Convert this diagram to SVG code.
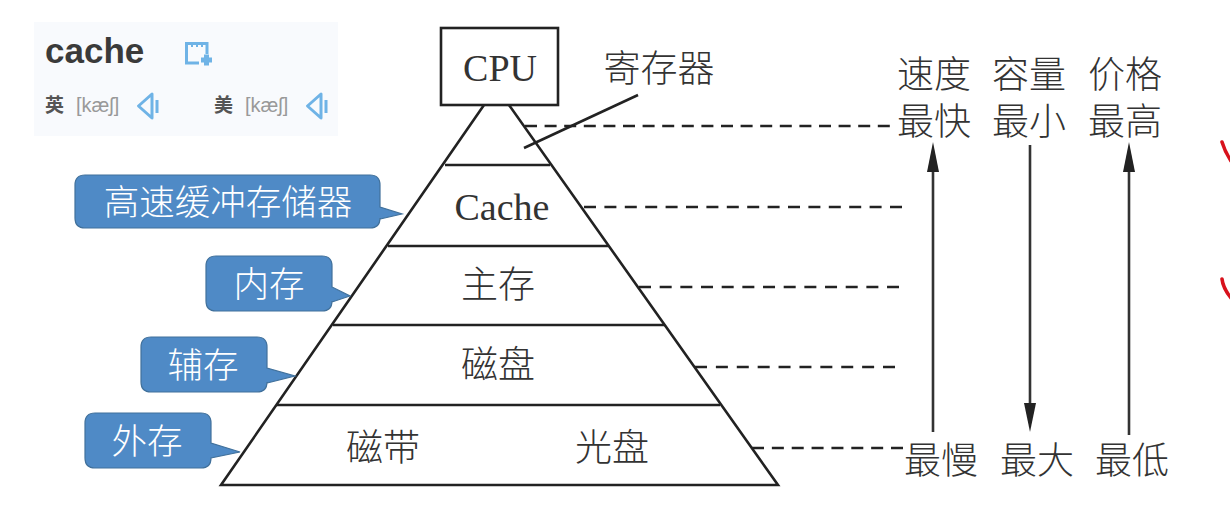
<svg xmlns="http://www.w3.org/2000/svg" width="1230" height="510" viewBox="0 0 1230 510">
<style>
.ln{stroke:#222;stroke-width:2.6;fill:none}
.da{stroke:#222;stroke-width:2.6;fill:none;stroke-dasharray:12 8}
.ar{stroke:#333;stroke-width:2.6;fill:none}
.t{font-family:"Liberation Serif","Noto Sans CJK SC",serif;font-size:37px;fill:#333;text-anchor:middle;font-weight:300}
.s{font-family:"Liberation Serif","Noto Sans CJK SC",serif;font-size:38px;fill:#333;text-anchor:middle}
.w{font-family:"Noto Sans CJK SC",sans-serif;font-size:35.5px;fill:#fff;text-anchor:middle;font-weight:300}
.b{fill:#4f8ac6;stroke:#41719c;stroke-width:1.2}
.ic{fill:none;stroke:#6fb3e6;stroke-width:3}
.ph{font-family:"Liberation Sans",sans-serif;font-size:20px;fill:#999}
.zh{font-family:"Noto Sans CJK SC",sans-serif;font-size:19px;font-weight:700;fill:#555}
</style>
<rect width="1230" height="510" fill="#fff"/>
<g id="card">
<rect x="34" y="22" width="304" height="114" fill="#f8fafd"/>
<text x="45" y="63" font-family="Liberation Sans,sans-serif" font-size="35" font-weight="700" fill="#3a3a3a">cache</text>
<path class="ic" d="M207 54V43.500H186.500V63H199"/>
<path d="M192 44V47M197 44V47M202 44V47" stroke="#6fb3e6" stroke-width="2" fill="none"/>
<path d="M201 60H212M206.500 54.500V65.500" stroke="#6fb3e6" stroke-width="5" fill="none"/>
<text x="45" y="112" class="zh">英</text>
<text x="76" y="112" class="ph">[kæʃ]</text>
<path class="ic" d="M138.500 106L152 94V118Z" stroke-linejoin="round"/><path class="ic" d="M157 100V113"/>
<text x="214" y="112" class="zh">美</text>
<text x="245" y="112" class="ph">[kæʃ]</text>
<path class="ic" d="M307.500 106L321 94V118Z" stroke-linejoin="round"/><path class="ic" d="M326 100V113"/>
</g>
<g id="pyramid">
<path class="ln" d="M484 105L221 485H778L509 105"/>
<path class="ln" d="M445 165H550M388 246H608M333 325H665M276 405H720"/>
</g>
<g id="cpu"><rect class="ln" x="441" y="28" width="117" height="77"/><text class="s" x="500" y="81">CPU</text></g>
<g id="register-label"><text class="t" x="659" y="82">寄存器</text></g>
<g id="level-cache"><text class="s" x="502" y="220">Cache</text></g>
<g id="level-main"><text class="t" x="498" y="298">主存</text></g>
<g id="level-disk"><text class="t" x="498" y="378">磁盘</text></g>
<g id="level-tape"><text class="t" x="383" y="461">磁带</text></g>
<g id="level-optical"><text class="t" x="612" y="461">光盘</text></g>
<g id="callout-cache"><path class="b" d="M85 175H370Q380 175 380 185V207L402 214L380 219V218Q380 228 370 228H85Q75 228 75 218V185Q75 175 85 175Z"/><text class="w" x="228" y="215">高速缓冲存储器</text></g>
<g id="callout-memory"><path class="b" d="M216 256H322Q332 256 332 266V287L350 296L332 302V301Q332 311 322 311H216Q206 311 206 301V266Q206 256 216 256Z"/><text class="w" x="269" y="297">内存</text></g>
<g id="callout-aux"><path class="b" d="M151 337H257Q267 337 267 347V368L295 376L267 383V382Q267 392 257 392H151Q141 392 141 382V347Q141 337 151 337Z"/><text class="w" x="203" y="378">辅存</text></g>
<g id="callout-external"><path class="b" d="M95 413H201Q211 413 211 423V443L240 452L211 458Q211 468 201 468H95Q85 468 85 458V423Q85 413 95 413Z"/><text class="w" x="147" y="454">外存</text></g>
<g id="col-speed"><text class="t" x="934" y="88">速度</text><text class="t" x="934" y="135">最快</text><text class="t" x="941" y="474">最慢</text></g>
<g id="col-capacity"><text class="t" x="1029" y="88">容量</text><text class="t" x="1029" y="135">最小</text><text class="t" x="1037" y="474">最大</text></g>
<g id="col-price"><text class="t" x="1125" y="88">价格</text><text class="t" x="1125" y="135">最高</text><text class="t" x="1132" y="474">最低</text></g>
<g id="connectors">
<path class="ln" d="M524 148L638 95"/>
<path class="da" stroke-dasharray="12 7.6" style="stroke-dasharray:12 7.6" d="M525 126H890"/>
<path class="da" style="stroke-dasharray:12 8.4" d="M584 207H902"/>
<path class="da" style="stroke-dasharray:12 8.67" d="M639 287H899"/>
<path class="da" style="stroke-dasharray:12 8.89" d="M695 367H895"/>
<path class="da" style="stroke-dasharray:12 7.86" d="M752 448H903"/>
<path class="ar" d="M933 432V170"/><path d="M933 142L927 172H939Z" fill="#222"/>
<path class="ar" d="M1030 145V405"/><path d="M1030 432L1024 403H1036Z" fill="#222"/>
<path class="ar" d="M1129 435V170"/><path d="M1129 142L1123 172H1135Z" fill="#222"/>
</g>
<g id="red-marks" stroke="#d8121c" stroke-width="3.6" fill="none" stroke-linecap="round"><path d="M1222 142Q1225 152 1231 161"/><path d="M1222 279Q1223 288 1231 298"/></g>
</svg>
